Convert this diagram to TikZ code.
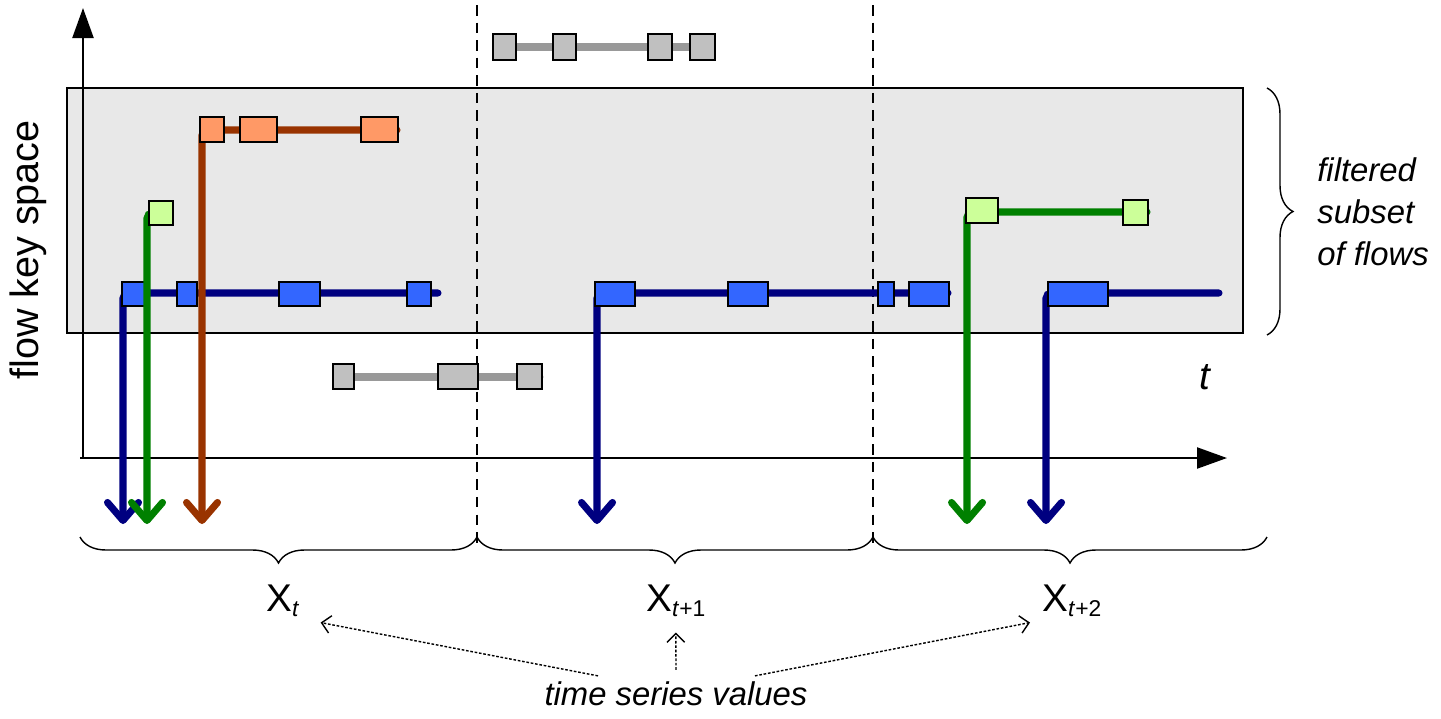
\documentclass[tikz,border=0pt]{standalone}
\usepackage{fontspec}
\setmainfont{Liberation Sans}
\usetikzlibrary{arrows.meta,decorations.pathreplacing}
\definecolor{lineblue}{HTML}{000080}
\definecolor{boxblue}{HTML}{3366FF}
\definecolor{linegreen}{HTML}{008000}
\definecolor{boxgreen}{HTML}{CCFF99}
\definecolor{linebrown}{HTML}{993300}
\definecolor{boxorange}{HTML}{FF9966}
\definecolor{linegray}{HTML}{999999}
\definecolor{boxgray}{HTML}{C0C0C0}
\definecolor{subsetgray}{HTML}{E8E8E8}
\newcommand{\idx}[1]{\raisebox{-3.4pt}{\fontsize{13}{13}\selectfont #1}}

\begin{document}
\begin{tikzpicture}[x=0.02cm,y=-0.02cm]
				\tikzstyle{every node}=[inner sep=0pt]
				\tikzstyle{flow}=[line width=4pt,line cap=round,rounded corners=3pt]
				\tikzstyle{drop}=[-{Straight Barb[round,length=0.36cm,width=0.62cm]}]
				\tikzstyle{box}=[draw=black,line width=1.1pt]
				\tikzstyle{axis}=[line width=1.3pt,-{Triangle[length=0.6cm,width=0.42cm]}]
				\tikzstyle{brace}=[line width=0.8pt,decorate,decoration={brace,amplitude=0.52cm}]
				\tikzstyle{hint}=[line width=0.8pt,dash pattern=on 1.5pt off 1pt,-{Straight Barb[length=5pt,width=10pt]}]
				\useasboundingbox (0,0) rectangle (1441,718);
				\draw[fill=subsetgray,line width=0.8pt] (67,88) rectangle (1243,333);
				\draw[axis] (83,458) -- (83,8);
				\draw[axis] (80,458) -- (1227,458);
				\draw[line width=0.8pt,dash pattern=on 6pt off 4pt] (477,5) -- (477,548);
				\draw[line width=0.8pt,dash pattern=on 6pt off 4pt] (873,5) -- (873,548);
				\draw[flow,linegray] (712,47) -- (496,47);
				\foreach \a/\b in {493/516,553/576,648/672,690/715}
					\draw[box,fill=boxgray] (\a,34) rectangle (\b,60);
				\draw[flow,linegray] (540,377) -- (337,377);
				\foreach \a/\b in {333/354,438/478,517/542}
					\draw[box,fill=boxgray] (\a,364) rectangle (\b,389);
				\draw[flow,drop,lineblue] (438,293) -- (123,293) -- (123,524);
				\draw[flow,drop,lineblue] (948,293) -- (597,293) -- (597,524);
				\draw[flow,drop,lineblue] (1219,293) -- (1046,293) -- (1046,524);
				\foreach \a/\b in {122/146,177/197,279/320,407/431,595/635,728/768,878/894,909/949,1048/1108}
					\draw[box,fill=boxblue] (\a,282) rectangle (\b,306);
				\draw[flow,drop,linegreen] (158,213) -- (147,213) -- (147,524);
				\draw[box,fill=boxgreen] (149,201) rectangle (173,225);
				\draw[flow,drop,linegreen] (1147,212) -- (967,212) -- (967,524);
				\draw[box,fill=boxgreen] (966,198) rectangle (998,223);
				\draw[box,fill=boxgreen] (1123,200) rectangle (1148,225);
				\draw[flow,drop,linebrown] (397,130) -- (202,130) -- (202,524);
				\foreach \a/\b in {200/224,240/277,361/398}
					\draw[box,fill=boxorange] (\a,117) rectangle (\b,142);
				\draw[brace] (1267,88) -- (1267,335);
				\draw[brace] (477,537) -- (80,537);
				\draw[brace] (873,537) -- (477,537);
				\draw[brace] (1267,537) -- (873,537);
				\node[rotate=90,font=\fontsize{22.5}{27}\selectfont] (key) at (28,250) {flow key space};
				\node[font=\fontsize{22}{26}\selectfont\itshape] (time) at (1205,377) {t};
				\node[anchor=west,align=left,font=\fontsize{18.7}{23.8}\selectfont\itshape] (subset) at (1317,212) {filtered\\subset\\of flows};
				\node[anchor=base west,font=\fontsize{22}{26}\selectfont] (xt) at (266,611) {X\idx{\textit{t}}};
				\node[anchor=base west,font=\fontsize{22}{26}\selectfont] (xt1) at (646,611) {X\idx{\textit{t}+1}};
				\node[anchor=base west,font=\fontsize{22}{26}\selectfont] (xt2) at (1042,611) {X\idx{\textit{t}+2}};
				\node[anchor=base,font=\fontsize{18.7}{22}\selectfont\itshape] (tsv) at (676,705) {time series values};
				\draw[hint] ([shift={(-78,-5)}]tsv.north) -- ([shift={(21,5)}]xt.south east);
				\draw[hint] ([shift={(0,-11)}]tsv.north) -- ([shift={(0,15)}]xt1.south);
				\draw[hint] ([shift={(79,-5)}]tsv.north) -- ([shift={(-12,5)}]xt2.south west);
			\end{tikzpicture}
\end{document}
